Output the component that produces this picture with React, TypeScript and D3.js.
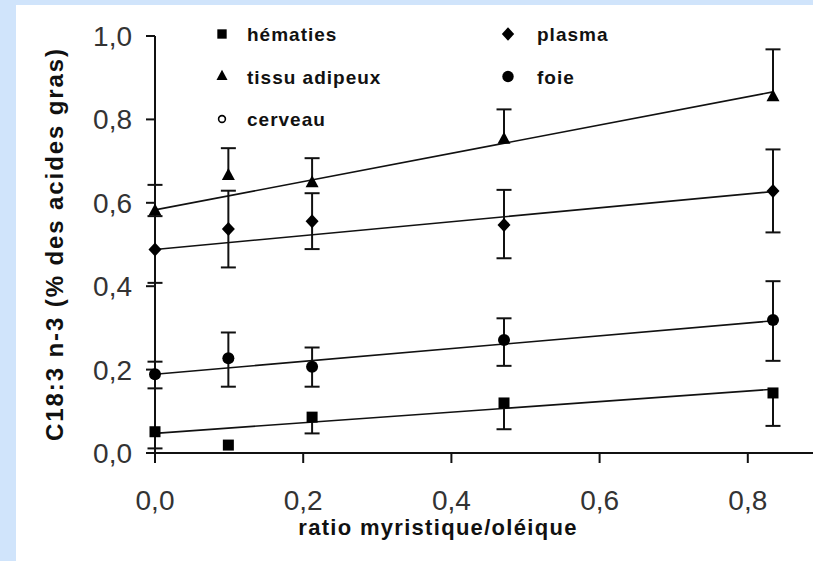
import React from "react";
import * as d3 from "d3";

const xValues = [0, 0.099, 0.212, 0.471, 0.834];
const hematies = [0.051, 0.019, 0.086, 0.12, 0.144];
const hematiesLow = [0.011, null, 0.047, 0.057, 0.065];
const adipeux = [0.579, 0.664, 0.647, 0.751, 0.853];
const adipeuxHigh = [0.643, 0.731, 0.707, 0.824, 0.968];
const plasma = [0.488, 0.537, 0.556, 0.547, 0.628];
const plasmaLow = [0.408, 0.445, 0.489, 0.467, 0.529];
const plasmaHigh = [0.568, 0.629, 0.623, 0.631, 0.728];
const foie = [0.189, 0.227, 0.207, 0.271, 0.319];
const foieLow = [0.155, 0.159, 0.159, 0.209, 0.221];
const foieHigh = [0.219, 0.289, 0.253, 0.323, 0.412];

const fitRange = [0, 0.834];
const hematiesFit = [0.047, 0.153];
const adipeuxFit = [0.583, 0.866];
const plasmaFit = [0.488, 0.627];
const foieFit = [0.189, 0.317];

const xTicks = [0, 0.2, 0.4, 0.6, 0.8];
const yTicks = [0, 0.2, 0.4, 0.6, 0.8, 1.0];
const fmt = (v: number) => v.toFixed(1).replace(".", ",");

const W = 813;
const H = 561;
const x = d3.scaleLinear().domain([0, 1]).range([155, 896]);
const y = d3.scaleLinear().domain([0, 1]).range([453, 36]);

type Shape = "square" | "triangle" | "diamond" | "circle" | "open";

function Marker({ cx, cy, shape, s = 1 }: { cx: number; cy: number; shape: Shape; s?: number }) {
  if (shape === "square") {
    const a = 11 * s;
    return <rect x={cx - a / 2} y={cy - a / 2} width={a} height={a} fill="#000" />;
  }
  if (shape === "triangle") {
    const w = 13 * s, h = 12 * s;
    return (
      <path
        d={`M${cx},${cy - (2 * h) / 3}L${cx + w / 2},${cy + h / 3}L${cx - w / 2},${cy + h / 3}Z`}
        fill="#000"
      />
    );
  }
  if (shape === "diamond") {
    const w = 13 * s, h = 14 * s;
    return (
      <path d={`M${cx},${cy - h / 2}L${cx + w / 2},${cy}L${cx},${cy + h / 2}L${cx - w / 2},${cy}Z`} fill="#000" />
    );
  }
  if (shape === "circle") {
    return <circle cx={cx} cy={cy} r={6 * s} fill="#000" />;
  }
  return <circle cx={cx} cy={cy} r={4 * s} fill="#fff" stroke="#000" strokeWidth={1.6} />;
}

type Series = {
  name: string;
  shape: Shape;
  values: (number | null)[];
  low: (number | null)[] | null;
  high: (number | null)[] | null;
  fit: number[];
};

const series: Series[] = [
  { name: "hématies", shape: "square", values: hematies, low: hematiesLow, high: null, fit: hematiesFit },
  { name: "tissu adipeux", shape: "triangle", values: adipeux, low: null, high: adipeuxHigh, fit: adipeuxFit },
  { name: "plasma", shape: "diamond", values: plasma, low: plasmaLow, high: plasmaHigh, fit: plasmaFit },
  { name: "foie", shape: "circle", values: foie, low: foieLow, high: foieHigh, fit: foieFit },
];

const legendItems: { name: string; shape: Shape; col: number; row: number }[] = [
  { name: "hématies", shape: "square", col: 0, row: 0 },
  { name: "tissu adipeux", shape: "triangle", col: 0, row: 1 },
  { name: "cerveau", shape: "open", col: 0, row: 2 },
  { name: "plasma", shape: "diamond", col: 1, row: 0 },
  { name: "foie", shape: "circle", col: 1, row: 1 },
];

export default function App() {
  const line = d3
    .line<[number, number]>()
    .x((d) => x(d[0]))
    .y((d) => y(d[1]));
  const cap = 7.5;
  const titleFont = "'Liberation Sans', Arial, sans-serif";
  return (
    <div style={{ position: "absolute", left: 0, top: 0 }}>
      <svg width={W} height={H} style={{ display: "block" }}>
        <rect x={0} y={0} width={W} height={H} fill="#d0e4fb" />
        <rect x={16} y={5} width={W - 16} height={H - 5} fill="#fff" />

        {/* fit lines */}
        {series.map((s) => (
          <path
            key={s.name + "fit"}
            d={line([[fitRange[0], s.fit[0]], [fitRange[1], s.fit[1]]]) || ""}
            fill="none"
            stroke="#111"
            strokeWidth={1.6}
          />
        ))}

        {/* error bars */}
        {series.map((s) =>
          xValues.map((xv, i) => {
            const v = s.values[i];
            if (v == null) return null;
            const els: React.ReactNode[] = [];
            const cx = x(xv);
            const lo = s.low ? s.low[i] : null;
            const hi = s.high ? s.high[i] : null;
            if (lo != null) {
              els.push(<line key="l" x1={cx} x2={cx} y1={y(v)} y2={y(lo)} stroke="#111" strokeWidth={2} />);
              els.push(<line key="lc" x1={cx - cap} x2={cx + cap} y1={y(lo)} y2={y(lo)} stroke="#111" strokeWidth={2} />);
            }
            if (hi != null) {
              els.push(<line key="h" x1={cx} x2={cx} y1={y(v)} y2={y(hi)} stroke="#111" strokeWidth={2} />);
              els.push(<line key="hc" x1={cx - cap} x2={cx + cap} y1={y(hi)} y2={y(hi)} stroke="#111" strokeWidth={2} />);
            }
            return <g key={s.name + "e" + i}>{els}</g>;
          })
        )}

        {/* axes */}
        <line x1={155} x2={155} y1={y(1)} y2={463} stroke="#111" strokeWidth={2} />
        {yTicks.map((t) => (
          <g key={"yt" + t}>
            <line x1={146} x2={155} y1={y(t)} y2={y(t)} stroke="#111" strokeWidth={2} />
            <text
              x={132}
              y={y(t) + 10}
              textAnchor="end"
              fontFamily={titleFont}
              fontSize={28}
              fill="#333"
            >
              {fmt(t)}
            </text>
          </g>
        ))}
        <line x1={147} x2={W} y1={y(0)} y2={y(0)} stroke="#111" strokeWidth={2} />
        {xTicks.map((t) => (
          <g key={"xt" + t}>
            <line x1={x(t)} x2={x(t)} y1={y(0)} y2={463} stroke="#111" strokeWidth={2} />
            <text x={x(t)} y={510} textAnchor="middle" fontFamily={titleFont} fontSize={28} fill="#333">
              {fmt(t)}
            </text>
          </g>
        ))}

        {/* markers */}
        {series.map((s) =>
          xValues.map((xv, i) => {
            const v = s.values[i];
            if (v == null) return null;
            return <Marker key={s.name + "m" + i} cx={x(xv)} cy={y(v)} shape={s.shape} />;
          })
        )}

        {/* legend */}
        {legendItems.map((it) => {
          const mx = it.col === 0 ? 222 : 508;
          const tx = it.col === 0 ? 247 : 537;
          const cy = 34 + it.row * 42.5;
          return (
            <g key={"lg" + it.name}>
              <Marker cx={mx} cy={cy} shape={it.shape} s={it.shape === "diamond" || it.shape === "circle" ? 0.95 : 0.85} />
              <text
                x={tx}
                y={cy + 7}
                fontFamily={titleFont}
                fontWeight="bold"
                fontSize={19}
                letterSpacing={1}
                fill="#111"
              >
                {it.name}
              </text>
            </g>
          );
        })}

        {/* axis titles */}
        <text
          x={438}
          y={535}
          textAnchor="middle"
          fontFamily={titleFont}
          fontWeight="bold"
          fontSize={22}
          letterSpacing={1.3}
          fill="#111"
        >
          ratio myristique/oléique
        </text>
        <text
          transform={`translate(63,244) rotate(-90)`}
          textAnchor="middle"
          fontFamily={titleFont}
          fontWeight="bold"
          fontSize={24}
          letterSpacing={1.9}
          fill="#111"
        >
          C18:3 n-3 (% des acides gras)
        </text>
      </svg>
    </div>
  );
}
